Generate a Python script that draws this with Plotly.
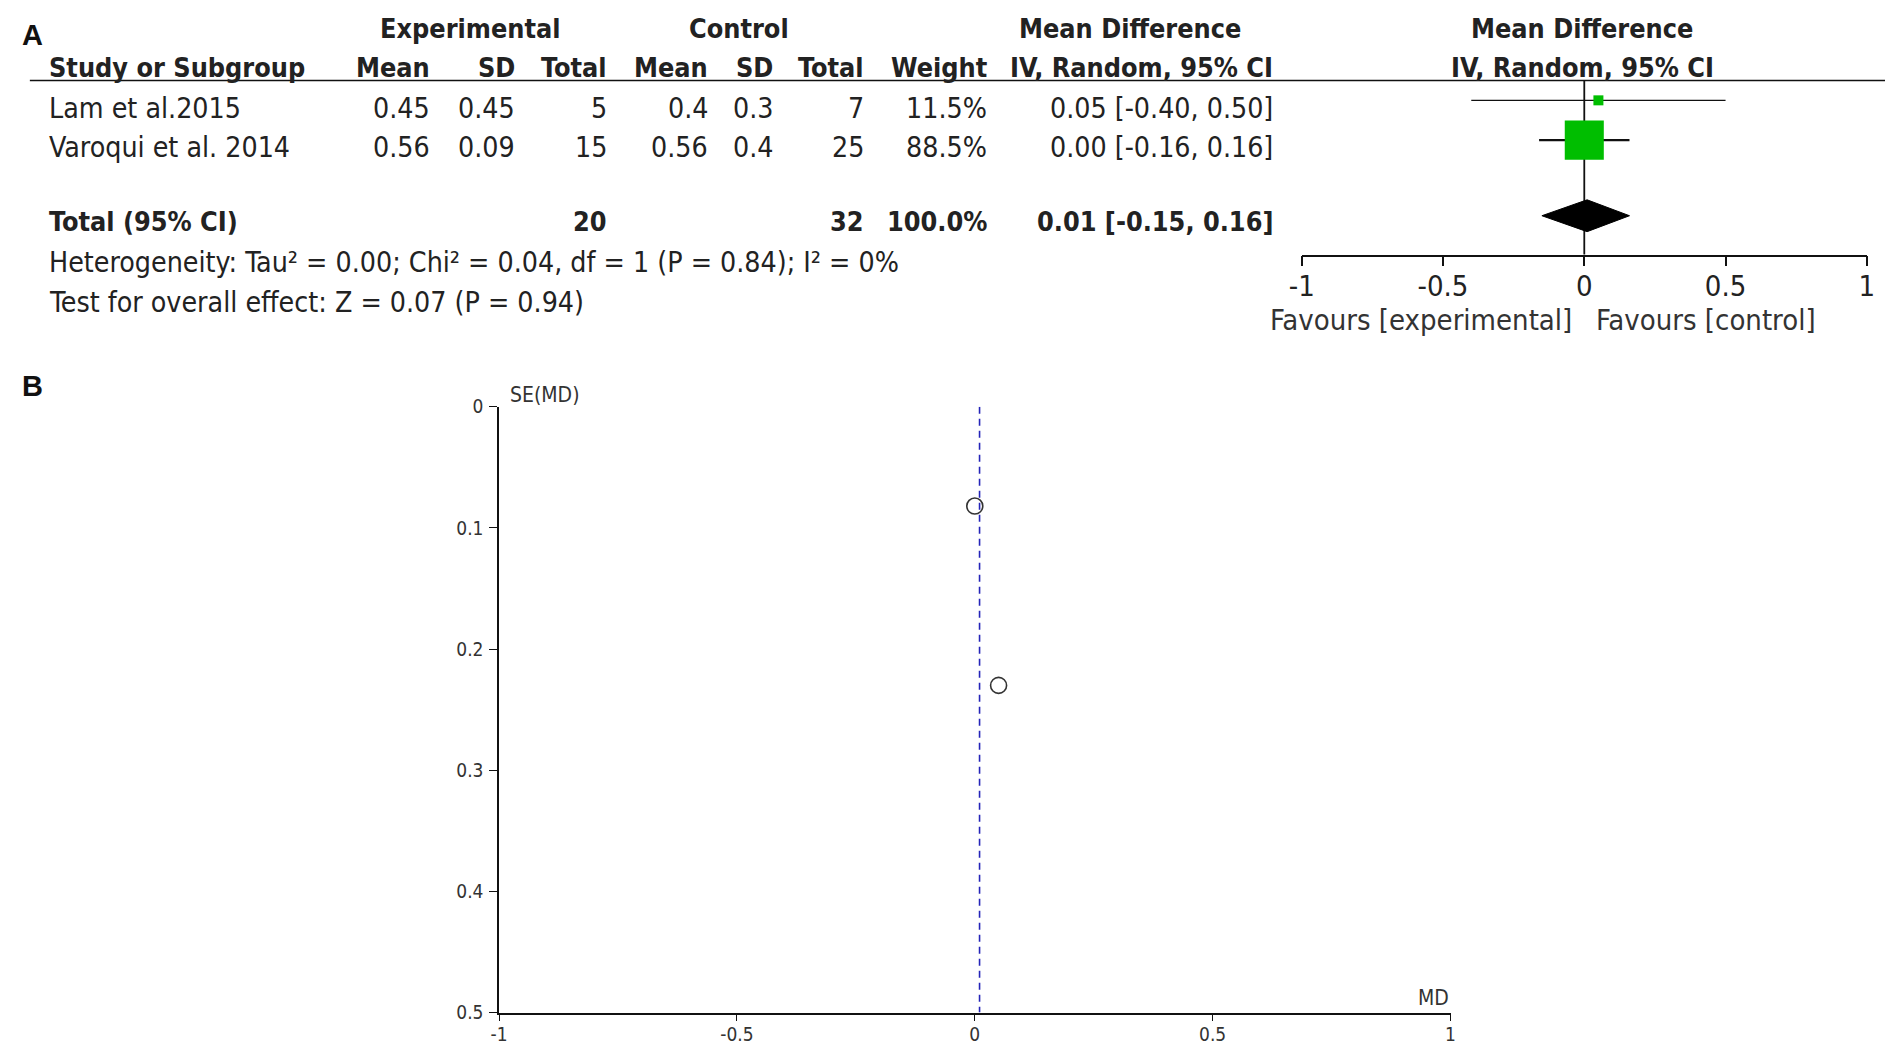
import plotly.graph_objects as go

# ---------------- data ----------------
studies = ["Lam et al.2015", "Varoqui et al. 2014"]
exp_mean = [0.45, 0.56]
exp_sd = [0.45, 0.09]
exp_n = [5, 15]
ctl_mean = [0.4, 0.56]
ctl_sd = [0.3, 0.4]
ctl_n = [7, 25]
weights = [11.5, 88.5]
md = [0.05, 0.00]
ci_lo = [-0.40, -0.16]
ci_hi = [0.50, 0.16]

total_label = "Total (95% CI)"
total_exp_n = 20
total_ctl_n = 32
total_weight = 100.0
total_md = 0.01
total_lo = -0.15
total_hi = 0.16
heterogeneity = "Heterogeneity: Tau² = 0.00; Chi² = 0.04, df = 1 (P = 0.84); I² = 0%"
overall = "Test for overall effect: Z = 0.07 (P = 0.94)"

forest_ticks = [-1, -0.5, 0, 0.5, 1]
forest_ticktext = ["-1", "-0.5", "0", "0.5", "1"]

# funnel plot data (MD vs SE(MD))
funnel_md = [0.05, 0.00]
funnel_se = [0.23, 0.082]
funnel_xticks = [-1, -0.5, 0, 0.5, 1]
funnel_xticktext = ["-1", "-0.5", "0", "0.5", "1"]
funnel_yticks = [0, 0.1, 0.2, 0.3, 0.4, 0.5]
funnel_yticktext = ["0", "0.1", "0.2", "0.3", "0.4", "0.5"]

# ---------------- layout constants ----------------
OFF = 8
FW, FH = 1901 - 2 * OFF, 1053 - 2 * OFF
# screen calibration (target picture px -> page px)
AX, BX = 10.2, 0.9905
AY, BY = 11.5, 0.9665
FONT = "Liberation Sans Narrow, Arial Narrow, DejaVu Sans Condensed, Liberation Sans, sans-serif"
FONT_BOLD_A = "Liberation Sans, Arial, sans-serif"
TXT = "#222222"
TS = 28.3   # table font size (regular)
TSB = 26.8  # table font size (bold)
LEFT = 45

row_text_y = [109, 148]
total_text_y = 223
het_y = 264
test_y = 304
row_pos = [0, 1]        # forest y positions (row units)
total_pos = 2.9
diamond_half = 0.4


def px(x):
    return ((x - AX) / BX - OFF) / FW


def py(y):
    return 1 - ((y - AY) / BY - OFF) / FH


fig = go.Figure()


def text(t, x, y, anchor="right", size=TS, bold=False, color=TXT, family=FONT):
    if bold:
        t = "<b>" + t + "</b>"
    fig.add_annotation(x=px(x), y=py(y), xref="paper", yref="paper", text=t,
                       showarrow=False, xanchor=anchor, yanchor="middle",
                       font=dict(family=family, size=size, color=color), borderpad=0)


# panel labels
text("A", 18, 35, anchor="left", size=29, bold=True, color="#111", family=FONT_BOLD_A)
text("B", 18, 388, anchor="left", size=29, bold=True, color="#111", family=FONT_BOLD_A)

# header row 1
text("Experimental", 468, 29, anchor="center", bold=True, size=TSB)
text("Control", 737, 29, anchor="center", bold=True, size=TSB)
text("Mean Difference", 1129, 29, anchor="center", bold=True, size=TSB)
text("Mean Difference", 1582, 29, anchor="center", bold=True, size=TSB)

# header row 2
hdr_y = 68
text("Study or Subgroup", LEFT, hdr_y, anchor="left", bold=True, size=TSB)
col_right = [429, 514, 606, 707, 772, 864, 987, 1273]
col_names = ["Mean", "SD", "Total", "Mean", "SD", "Total", "Weight", "IV, Random, 95% CI"]
for name, xr in zip(col_names, col_right):
    text(name, xr, hdr_y, anchor="right", bold=True, size=TSB)
text("IV, Random, 95% CI", 1582, hdr_y, anchor="center", bold=True, size=TSB)

# header rule
fig.add_shape(type="line", xref="paper", yref="paper", x0=px(27), x1=min(px(1894), 1.0),
              y0=py(81), y1=py(81), line=dict(color="#111", width=1.5))

# study rows
for i, s in enumerate(studies):
    y = row_text_y[i]
    vals = [f"{exp_mean[i]:g}", f"{exp_sd[i]:g}", f"{exp_n[i]}",
            f"{ctl_mean[i]:g}", f"{ctl_sd[i]:g}", f"{ctl_n[i]}",
            f"{weights[i]:.1f}%", f"{md[i]:.2f} [{ci_lo[i]:.2f}, {ci_hi[i]:.2f}]"]
    text(s, LEFT, y, anchor="left")
    for v, xr in zip(vals, col_right):
        text(v, xr, y, anchor="right")

# total row
text(total_label, LEFT, total_text_y, anchor="left", bold=True, size=TSB)
text(f"{total_exp_n}", col_right[2], total_text_y, bold=True, size=TSB)
text(f"{total_ctl_n}", col_right[5], total_text_y, bold=True, size=TSB)
text(f"{total_weight:.1f}%", col_right[6], total_text_y, bold=True, size=TSB)
text(f"{total_md:.2f} [{total_lo:.2f}, {total_hi:.2f}]", col_right[7], total_text_y,
     bold=True, size=TSB)
text(heterogeneity, LEFT, het_y, anchor="left")
text(overall, LEFT, test_y, anchor="left")

# favours labels
text("Favours [experimental]", 1420, 322, anchor="center", color="#333", size=29)
text("Favours [control]", 1706, 322, anchor="center", color="#333", size=29)

# ---------------- forest plot ----------------
line_w = [1.2, 2.2]
sizes = [5.67 + 0.377 * w for w in weights]
for i in range(len(studies)):
    fig.add_trace(go.Scatter(x=[ci_lo[i], ci_hi[i]], y=[row_pos[i], row_pos[i]], mode="lines",
                             line=dict(color="#111", width=line_w[i]), xaxis="x", yaxis="y",
                             showlegend=False, hoverinfo="skip"))
    fig.add_trace(go.Scatter(x=[md[i]], y=[row_pos[i]], mode="markers",
                             marker=dict(symbol="square", size=sizes[i], color="#00BE00",
                                         line=dict(width=0)),
                             xaxis="x", yaxis="y", showlegend=False, cliponaxis=False))

fig.add_trace(go.Scatter(x=[total_lo, total_md, total_hi, total_md, total_lo],
                         y=[total_pos, total_pos - diamond_half, total_pos,
                            total_pos + diamond_half, total_pos],
                         mode="lines", fill="toself", fillcolor="#000",
                         line=dict(color="#000", width=1), xaxis="x", yaxis="y",
                         showlegend=False))

fig.add_shape(type="line", xref="x", yref="y domain", x0=0, x1=0, y0=0, y1=1,
              line=dict(color="#111", width=1.8), layer="below")

# ---------------- funnel plot ----------------
pooled = total_md
fig.add_trace(go.Scatter(x=[pooled, pooled], y=[0, 0.5], mode="lines",
                         line=dict(color="#2424B8", width=1.6, dash="7px,5px"),
                         xaxis="x2", yaxis="y2", showlegend=False))
fig.add_trace(go.Scatter(x=funnel_md, y=funnel_se, mode="markers",
                         marker=dict(symbol="circle-open", size=16, color="#333",
                                     line=dict(width=1.6, color="#333")),
                         xaxis="x2", yaxis="y2", showlegend=False))

text("SE(MD)", 507, 397, anchor="left", size=21, color="#333")
text("MD", 1449, 1003, anchor="right", size=21, color="#333")

axis_common = dict(showgrid=False, zeroline=False)
fig.update_layout(
    width=FW, height=FH, autosize=False, margin=dict(l=0, r=0, t=0, b=0),
    paper_bgcolor="white", plot_bgcolor="white", showlegend=False,
    xaxis=dict(domain=[px(1301), px(1867)], range=[-1, 1], anchor="y",
               tickvals=forest_ticks, ticktext=forest_ticktext, ticks="outside",
               ticklen=10, tickwidth=1.8, tickcolor="#111", showline=True,
               linecolor="#111", linewidth=1.8, ticklabelstandoff=-5,
               tickfont=dict(family=FONT, size=29, color=TXT), **axis_common),
    yaxis=dict(domain=[py(256), py(81)], range=[3.875, -0.5], visible=False,
               anchor="x", **axis_common),
    xaxis4=dict(overlaying="x", range=[-1, 1], anchor="y", tickvals=forest_ticks,
                ticks="inside", ticklen=10, tickwidth=1.8, tickcolor="#111",
                showticklabels=False, showline=False, **axis_common),
    xaxis2=dict(domain=[px(497), px(1450)], range=[-1, 1], anchor="y2",
                tickvals=funnel_xticks, ticktext=funnel_xticktext, ticks="outside",
                ticklen=7, tickwidth=1.4, tickcolor="#111", showline=True,
                linecolor="#111", linewidth=1.6, ticklabelstandoff=-3,
                tickfont=dict(family=FONT, size=19, color="#333"), **axis_common),
    yaxis2=dict(domain=[py(1018), py(409)], range=[0.5, 0], anchor="x2",
                tickvals=funnel_yticks, ticktext=funnel_yticktext, ticks="outside",
                ticklen=8, tickwidth=1.4, tickcolor="#111", showline=True,
                linecolor="#111", linewidth=1.6, ticklabelstandoff=2,
                tickfont=dict(family=FONT, size=19, color="#333"), **axis_common),
    xaxis3=dict(overlaying="x2", range=[-1, 1], anchor="y2", tickvals=funnel_xticks,
                ticks="inside", ticklen=7, tickwidth=1.4, tickcolor="#111",
                showticklabels=False, showline=False, **axis_common),
    yaxis3=dict(overlaying="y2", range=[0.5, 0], anchor="x2", tickvals=funnel_yticks,
                ticks="inside", ticklen=7, tickwidth=1.4, tickcolor="#111",
                showticklabels=False, showline=False, **axis_common),
)

fig.write_html("out.html", config={"responsive": False, "displayModeBar": False})
